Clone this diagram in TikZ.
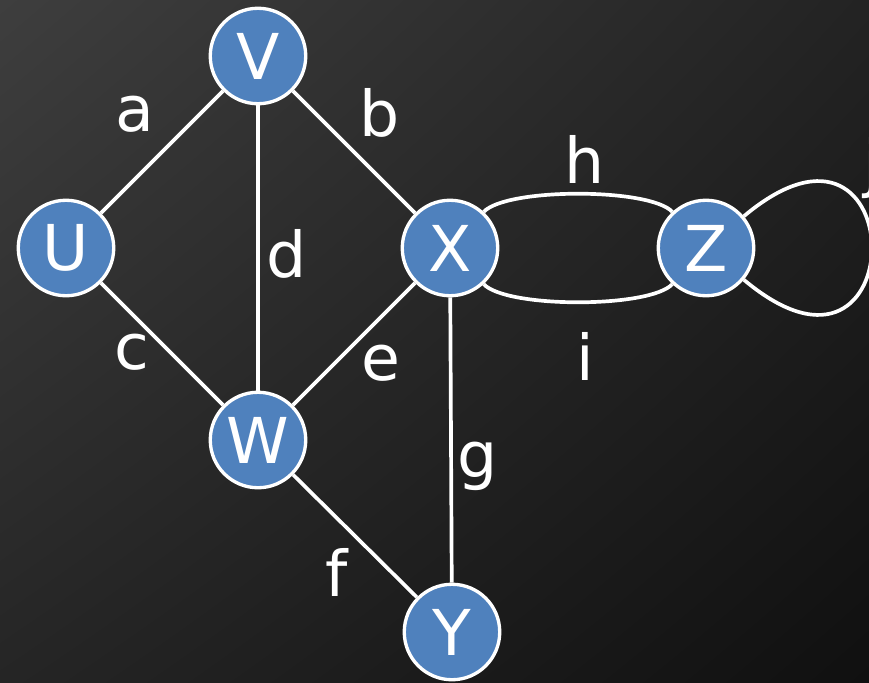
\documentclass[tikz,border=0pt]{standalone}
\usepackage{fontspec}
\setmainfont{DejaVu Sans}
\usetikzlibrary{shadings}
\definecolor{vblue}{HTML}{4F81BD}
\definecolor{bgtl}{HTML}{3E3E3E}
\definecolor{bgtr}{HTML}{232323}
\definecolor{bgbl}{HTML}{252525}
\definecolor{bgbr}{HTML}{101010}
\begin{document}
\begin{tikzpicture}[x=0.02cm,y=0.02cm,
        vertex/.style={circle,fill=vblue,draw=white,line width=1.9pt,minimum size=1.91cm,inner sep=0pt,text=white,font=\fontsize{36}{40}\selectfont},
        edge/.style={draw=white,line width=2.1pt},
        lbl/.style={text=white,inner sep=0pt,font=\fontsize{36}{40}\selectfont}]
        \useasboundingbox (0,0) rectangle (869,-683);
        \shade[upper left=bgtl,upper right=bgtr,lower left=bgbl,lower right=bgbr] (0,0) rectangle (869,-683);

        \node[vertex] (V) at (258,-56) {V};
        \node[vertex] (U) at (66,-248) {U};
        \node[vertex] (X) at (450,-248) {X};
        \node[vertex] (Z) at (706,-248) {Z};
        \node[vertex] (W) at (258,-440) {W};
        \node[vertex] (Y) at (452,-632) {Y};

        \draw[edge] (U)--(V) node[midway,lbl,shift={(-27,37.5)}]{a};
        \draw[edge] (V)--(X) node[midway,lbl,shift={(26,39.5)}]{b};
        \draw[edge] (V)--(W) node[midway,lbl,shift={(29,-5.5)}]{d};
        \draw[edge] (U)--(W) node[midway,lbl,shift={(-30,-8)}]{c};
        \draw[edge] (W)--(X) node[midway,lbl,shift={(27,-19)}]{e};
        \draw[edge] (X)--(Y) node[midway,lbl,shift={(27,-26)}]{g};
        \draw[edge] (W)--(Y) node[midway,lbl,shift={(-18,-36)}]{f};
        \draw[edge] (X) to[out=47,in=133,looseness=0.45] node[lbl,shift={(7,34)}]{h} (Z);
        \draw[edge] (X) to[out=-47,in=-133,looseness=0.45] node[lbl,shift={(7,-54)}]{i} (Z);
        \draw[edge] (Z) to[out=40,in=-40,looseness=9] node[lbl,shift={(0,80)}]{j} (Z);

\end{tikzpicture}
\end{document}
